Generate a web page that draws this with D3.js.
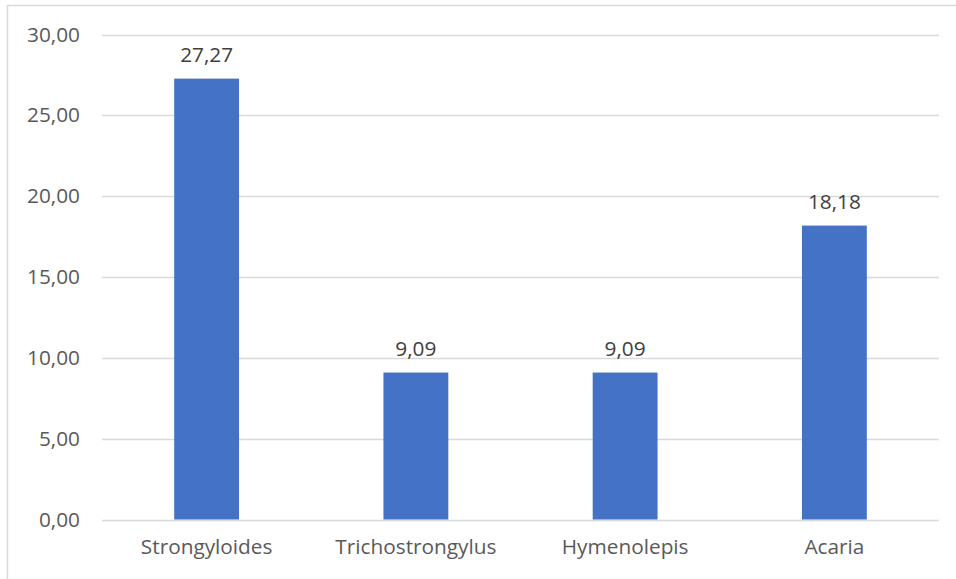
<!DOCTYPE html>
<html><head><meta charset="utf-8">
<script src="https://cdn.jsdelivr.net/npm/d3@7"></script>
<style>body{margin:0;background:#fff}svg{display:block}</style>
</head><body>
<script>
const categories = ["Strongyloides", "Trichostrongylus", "Hymenolepis", "Acaria"];
const values = [27.27, 9.09, 9.09, 18.18];
const yTicks = [0, 5, 10, 15, 20, 25, 30];

const W = 956, H = 579;
const margin = {left: 102, right: 17, top: 34.5, bottom: 59.5};
const font = "'Open Sans', Lato, sans-serif";
const fs = 20.8;
const fmt = v => d3.format(".2f")(v).replace(".", ",");

const svg = d3.select("body").append("svg").attr("width", W).attr("height", H);
svg.append("path").attr("d", `M7.5,${H} V5.5 H${W}`).attr("fill", "none").attr("stroke", "#d9d9d9").attr("stroke-width", 1.5);

const x = d3.scaleBand().domain(categories).range([margin.left, W - margin.right]).paddingInner(0.69).paddingOuter(0.345);
const y = d3.scaleLinear().domain([0, 30]).range([H - margin.bottom, margin.top]);

const grid = svg.append("g");
grid.selectAll("line").data(yTicks).join("line")
  .attr("x1", margin.left).attr("x2", W - margin.right)
  .attr("y1", d => Math.round(y(d)) + 0.5).attr("y2", d => Math.round(y(d)) + 0.5)
  .attr("stroke", "#d9d9d9").attr("stroke-width", 1.3);

const yAxis = svg.append("g").attr("transform", `translate(${margin.left},0)`)
  .call(d3.axisLeft(y).tickValues(yTicks).tickFormat(fmt).tickSize(0).tickPadding(22));
yAxis.select(".domain").remove();
yAxis.selectAll("text").attr("font-family", font).attr("font-size", fs).attr("fill", "#595959");

const xAxis = svg.append("g").attr("transform", `translate(0,${H - margin.bottom})`)
  .call(d3.axisBottom(x).tickSize(0).tickPadding(20));
xAxis.select(".domain").remove();
xAxis.selectAll("text").attr("font-family", font).attr("font-size", fs).attr("fill", "#595959");

const data = categories.map((c, i) => ({c, v: values[i]}));
svg.append("g").selectAll("rect").data(data).join("rect")
  .attr("x", d => x(d.c)).attr("width", x.bandwidth())
  .attr("y", d => y(d.v)).attr("height", d => y(0) - y(d.v))
  .attr("fill", "#4472c4");

svg.append("g").selectAll("text").data(data).join("text")
  .attr("x", d => x(d.c) + x.bandwidth() / 2).attr("y", d => y(d.v) - 17)
  .attr("text-anchor", "middle").attr("font-family", font).attr("font-size", fs).attr("fill", "#404040")
  .text(d => fmt(d.v));
</script>
</body></html>
